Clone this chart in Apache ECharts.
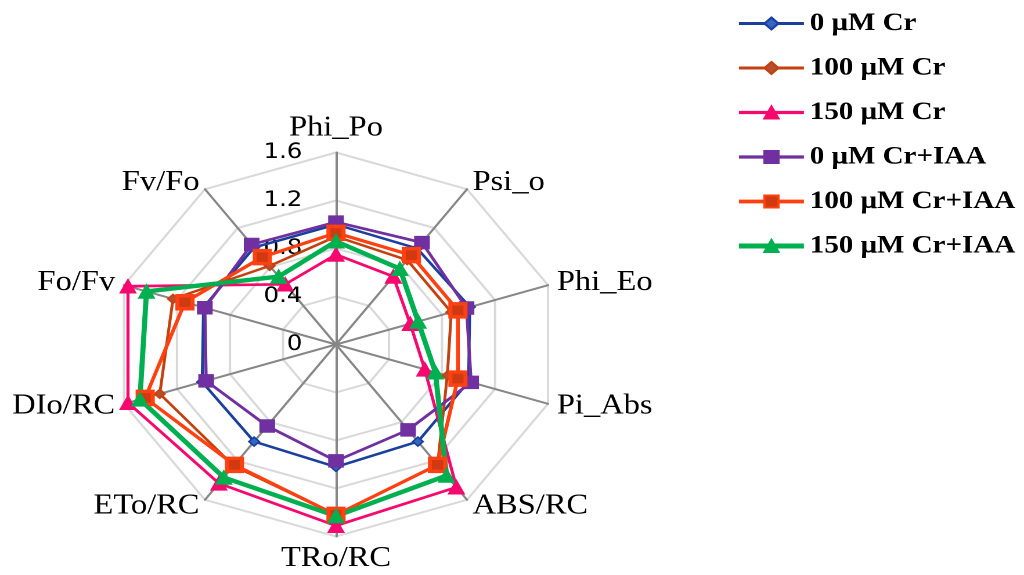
<!DOCTYPE html>
<html>
<head>
<meta charset="utf-8">
<script src="https://cdn.jsdelivr.net/npm/echarts@6/dist/echarts.min.js"></script>
<style>
  html, body { margin: 0; padding: 0; background: #fff; overflow: hidden; }
  #wrap { width: 1024px; height: 575px; overflow: hidden; }
  /* the figure is drawn slightly wider than tall */
  #chart { width: 882px; height: 575px; transform: scaleX(1.161); transform-origin: 0 0; }
</style>
</head>
<body>
<div id="wrap"><div id="chart"></div></div>
<script>
// Chlorophyll fluorescence (JIP-test) parameters, clockwise from the top
const parameters = ['Phi_Po', 'Psi_o', 'Phi_Eo', 'Pi_Abs', 'ABS/RC', 'TRo/RC', 'ETo/RC', 'DIo/RC', 'Fo/Fv', 'Fv/Fo'];

const treatments = ['0 μM Cr', '100 μM Cr', '150 μM Cr', '0 μM Cr+IAA', '100 μM Cr+IAA', '150 μM Cr+IAA'];

const cr0       = [1.00, 0.99, 1.01, 1.00, 1.00, 1.02, 1.00, 1.01, 1.00, 1.00];
const cr100     = [0.90, 0.87, 0.87, 0.84, 1.24, 1.42, 1.25, 1.33, 1.23, 0.81];
const cr150     = [0.75, 0.70, 0.56, 0.67, 1.47, 1.51, 1.43, 1.57, 1.57, 0.62];
const cr0Iaa    = [1.02, 1.05, 0.985, 1.02, 0.88, 0.97, 0.84, 0.98, 0.99, 1.03];
const cr100Iaa  = [0.93, 0.92, 0.92, 0.92, 1.24, 1.42, 1.24, 1.44, 1.14, 0.90];
const cr150Iaa  = [0.86, 0.78, 0.62, 0.75, 1.35, 1.43, 1.37, 1.48, 1.43, 0.70];

// radial scale: 0, 0.4, 0.8, 1.2, 1.6
const axisMin = 0;
const axisMax = 1.6;
const axisSplits = 4;

const seriesValues = [cr0, cr100, cr150, cr0Iaa, cr100Iaa, cr150Iaa];

const styles = [
  { color: '#1B3F9E', fill: '#3566C4', symbol: 'diamond', size: 9,  width: 2.5 },
  { color: '#C4410F', fill: '#B5502E', symbol: 'diamond', size: 9,  width: 2.5 },
  { color: '#F7086E', fill: '#F7086E', symbol: 'triangle', size: 13, width: 2.7 },
  { color: '#7030A0', fill: '#7030A0', symbol: 'rect',    size: 12, width: 2.7 },
  { color: '#FF4011', fill: '#CF3A12', symbol: 'rect',    size: 13, width: 3.2 },
  { color: '#00B050', fill: '#00B050', symbol: 'triangle', size: 13, width: 4.4 }
];

// ECharts lays indicators out counter-clockwise; reorder so they run clockwise
const order = [0].concat(parameters.slice(1).map((_, i) => parameters.length - 1 - i));
const reorder = arr => order.map(i => arr[i]);

const serif = '"Liberation Serif", "Times New Roman", serif';

const indicator = reorder(parameters).map((name, i) => ({
  name: name,
  min: axisMin,
  max: axisMax,
  axisLabel: { show: i === 0 }
}));

// legend keys: line series without data give a line-with-marker icon
const legendSeries = treatments.map((name, k) => ({
  type: 'line',
  name: name,
  data: [],
  xAxisIndex: 0,
  yAxisIndex: 0,
  symbol: styles[k].symbol,
  lineStyle: { color: styles[k].color, width: styles[k].width + 0.5 },
  itemStyle: { color: styles[k].fill, borderColor: styles[k].color, borderWidth: k === 4 ? 3 : 1.5 }
}));

const legendData = treatments.map((name, k) => ({
  name: name,
  lineStyle: { color: styles[k].color, width: styles[k].width + 0.5 }
}));

const radarSeries = treatments.map((name, k) => ({
  type: 'radar',
  name: name,
  radarIndex: 0,
  symbol: styles[k].symbol,
  symbolSize: styles[k].size,
  lineStyle: { color: styles[k].color, width: styles[k].width },
  itemStyle: { color: styles[k].fill, borderColor: styles[k].color, borderWidth: k === 4 ? 3.5 : 1.5 },
  data: [{ name: name, value: reorder(seriesValues[k]) }]
}));

const chart = echarts.init(document.getElementById('chart'), null, { renderer: 'canvas', devicePixelRatio: 2 });

chart.setOption({
  animation: false,
  backgroundColor: '#ffffff',
  grid: { show: false, left: 0, top: 0, width: 1, height: 1 },
  xAxis: { type: 'category', show: false, data: [] },
  yAxis: { type: 'value', show: false },
  legend: {
    orient: 'vertical',
    left: 629,
    top: 5.5,
    itemWidth: 56,
    itemHeight: 15,
    itemGap: 18.5,
    data: legendData,
    textStyle: { fontFamily: serif, fontWeight: 'bold', fontSize: 25, color: '#000', lineHeight: 26 }
  },
  radar: {
    center: [289.4, 344.5],
    radius: 192,
    startAngle: 90,
    splitNumber: axisSplits,
    shape: 'polygon',
    indicator: indicator,
    axisName: { color: '#000', fontFamily: serif, fontSize: 28 },
    nameGap: 8,
    axisLine: { lineStyle: { color: '#878787', width: 2 } },
    splitLine: { lineStyle: { color: '#D9D9D9', width: 2 } },
    splitArea: { show: false },
    axisTick: { show: false },
    axisLabel: {
      margin: 29,
      color: '#000',
      fontFamily: '"DejaVu Sans", Verdana, sans-serif',
      fontSize: 21,
      formatter: v => String(Math.round(v * 10) / 10)
    }
  },
  series: legendSeries.concat(radarSeries)
});
</script>
</body>
</html>
